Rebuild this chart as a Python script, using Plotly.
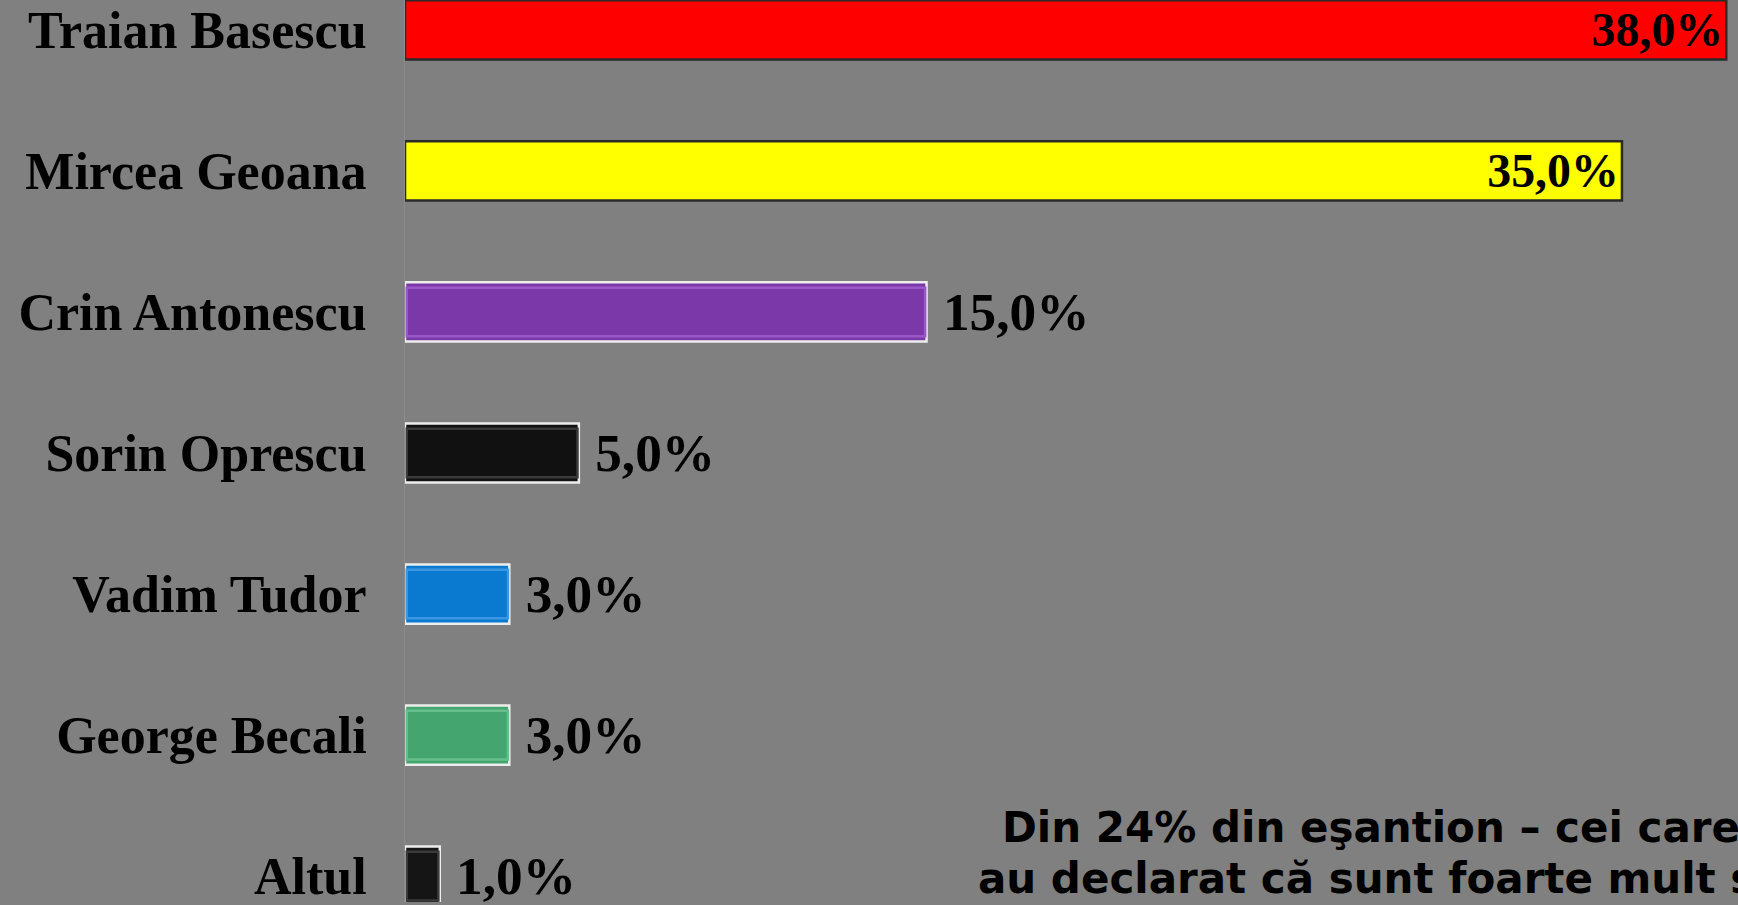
import plotly.graph_objects as go

candidates = ["Traian Basescu", "Mircea Geoana", "Crin Antonescu", "Sorin Oprescu",
              "Vadim Tudor", "George Becali", "Altul"]
values = [38.0, 35.0, 15.0, 5.0, 3.0, 3.0, 1.0]
bar_colors = ["#FF0000", "#FFFF00", "#7A38A8", "#111111", "#0A7AD0", "#44A56F", "#151515"]
edge_colors = ["#2a2a2a", "#2a2a2a", "#EDEDED", "#EDEDED", "#EDEDED", "#EDEDED", "#EDEDED"]
bevel_colors = [None, None, "#9A58C8", "#3A3A3A", "#3C96E0", "#66BE8C", "#3A3A3A"]
text_pos = ["inside", "inside", "outside", "outside", "outside", "outside", "outside"]
labels = [" " + f"{v:.1f}".replace(".", ",") + "%" for v in values]
note_line1 = "Din 24% din eşantion – cei care"
note_line2 = "au declarat că sunt foarte mult s"

W, H = 1738, 905
left = 405
px_per_pct = 34.77
row = 141.5
first_center = 30

fig = go.Figure()
fig.add_trace(go.Bar(
    y=candidates, x=values, orientation="h", width=0.42,
    marker=dict(color=bar_colors, line=dict(color=edge_colors, width=2.5)),
    text=labels, textposition=text_pos, insidetextanchor="end",
    textfont=dict(family="Liberation Serif", size=54, color="black", weight="bold"),
    cliponaxis=False, hoverinfo="skip",
))

# inner bevel face for the bevelled bars
bev_vals = [v if c is not None else None for v, c in zip(values, bevel_colors)]
bev_fill = [b if c is not None else "rgba(0,0,0,0)" for b, c in zip(bar_colors, bevel_colors)]
bev_line = [c if c is not None else "rgba(0,0,0,0)" for c in bevel_colors]
fig.add_trace(go.Bar(
    y=candidates, x=[v - 0.09 if v is not None else None for v in bev_vals],
    base=0.05, orientation="h", width=0.345,
    marker=dict(color=bev_fill, line=dict(color=bev_line, width=2.5)),
    hoverinfo="skip",
))

x_max = (W - left) / px_per_pct
y_top = -first_center / row
y_bot = y_top + H / row

fig.update_layout(
    width=W, height=H,
    margin=dict(l=left, r=0, t=0, b=0),
    paper_bgcolor="#808080", plot_bgcolor="#808080",
    barmode="overlay", showlegend=False,
    xaxis=dict(range=[0, x_max], showgrid=False, zeroline=False, showticklabels=False,
               showline=False, fixedrange=True),
    yaxis=dict(range=[y_bot, y_top], showgrid=False, zeroline=False,
               showline=True, linecolor="#8C8C8C", linewidth=1,
               ticks="", ticklabelstandoff=27,
               tickfont=dict(family="Liberation Serif", size=52, color="black", weight="bold")),
    annotations=[
        dict(text=note_line1, xref="paper", yref="paper", x=(1000 - left) / (W - left),
             y=1 - 830 / H, xanchor="left", yanchor="middle", showarrow=False,
             font=dict(family="DejaVu Sans", size=42, color="black", weight="bold")),
        dict(text=note_line2, xref="paper", yref="paper", x=(976 - left) / (W - left),
             y=1 - 881 / H, xanchor="left", yanchor="middle", showarrow=False,
             font=dict(family="DejaVu Sans", size=42, color="black", weight="bold")),
    ],
)

fig.write_html("out.html", config={"displayModeBar": False},
               post_script="document.body.style.margin='0';document.body.style.overflow='hidden';")
